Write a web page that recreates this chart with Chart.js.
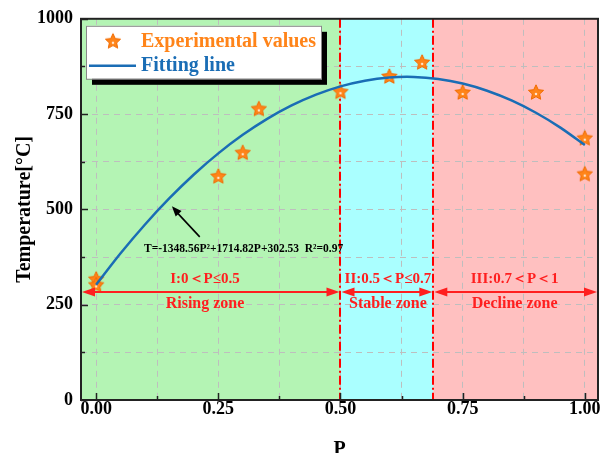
<!DOCTYPE html>
<html><head><meta charset="utf-8">
<script src="https://cdn.jsdelivr.net/npm/chart.js@4.4.1/dist/chart.umd.min.js"></script>
<style>html,body{margin:0;padding:0;background:#fff;overflow:hidden;}</style>
</head><body>
<canvas id="c" width="603" height="453"></canvas>
<script>
// ---------- data ----------
const expP = [0, 0, 0.25, 0.30, 0.333, 0.50, 0.60, 0.667, 0.75, 0.90, 1.00, 1.00];
const expT = [318, 303, 588, 650, 765, 810, 850, 887, 808, 808, 688, 594];
const fitP = [0, 0.05, 0.1, 0.15, 0.2, 0.25, 0.3, 0.35, 0.4, 0.45, 0.5, 0.55, 0.6, 0.65, 0.7, 0.75, 0.8, 0.85, 0.9, 0.95, 1.0];
const fitT = [302.5, 384.9, 460.5, 529.4, 591.6, 647.0, 695.6, 737.5, 772.7, 801.1, 822.8, 837.7, 845.9, 847.4, 842.1, 830.1, 811.3, 785.8, 753.5, 714.5, 668.8];
const xTickValues = [0, 0.125, 0.25, 0.375, 0.5, 0.625, 0.75, 0.875, 1.0];
const xTickLabels = ['0.00', '', '0.25', '', '0.50', '', '0.75', '', '1.00'];
const yTickValues = [0, 125, 250, 375, 500, 625, 750, 875, 1000];
const yTickLabels = ['0', '', '250', '', '500', '', '750', '', '1000'];
const zoneBounds = [0.5, 0.69];
const zoneTitles = ['I:0＜P≤0.5', 'II:0.5＜P≤0.7', 'III:0.7＜P＜1'];
const zoneNames = ['Rising zone', 'Stable zone', 'Decline zone'];
const equationText = 'T=-1348.56P²+1714.82P+302.53  R²=0.97';
const seriesNames = ['Experimental values', 'Fitting line'];

// ---------- styling ----------
const SERIF = "'Times New Roman', 'Liberation Serif', 'DejaVu Serif', serif";
const ORANGE = '#ff8419';
const BLUE = '#1a6db5';
const RED = '#ff1f1f';
const ZONE_COLORS = ['rgb(180,244,180)', 'rgb(170,255,255)', 'rgb(255,192,192)'];

function makeStar(r) {
  const s = Math.ceil(r * 2 + 4);
  const c = document.createElement('canvas');
  c.width = s; c.height = s;
  const g = c.getContext('2d');
  g.translate(s / 2, s / 2 + r * 0.1);
  g.beginPath();
  for (let i = 0; i < 10; i++) {
    const a = -Math.PI / 2 + i * Math.PI / 5;
    const rr = i % 2 ? r * 0.48 : r;
    g.lineTo(rr * Math.cos(a), rr * Math.sin(a));
  }
  g.closePath();
  g.fillStyle = ORANGE; g.fill();
  g.lineWidth = 1; g.strokeStyle = '#f06a00'; g.stroke();
  g.beginPath(); g.arc(0, r * 0.15, r * 0.16, 0, Math.PI * 2);
  g.fillStyle = 'rgba(255,240,225,0.9)'; g.fill();
  return c;
}
const starImg = makeStar(8);

function arrowHead(ctx, x1, y1, x2, y2, len, half) {
  const a = Math.atan2(y2 - y1, x2 - x1);
  ctx.beginPath();
  ctx.moveTo(x2, y2);
  ctx.lineTo(x2 - len * Math.cos(a) + half * Math.sin(a), y2 - len * Math.sin(a) - half * Math.cos(a));
  ctx.lineTo(x2 - len * Math.cos(a) - half * Math.sin(a), y2 - len * Math.sin(a) + half * Math.cos(a));
  ctx.closePath();
  ctx.fill();
}

const zonePlugin = {
  id: 'zones',
  beforeDraw(chart) {
    const {ctx, chartArea: ca, scales: {x}} = chart;
    const edges = [ca.left, x.getPixelForValue(zoneBounds[0]), x.getPixelForValue(zoneBounds[1]), ca.right];
    ctx.save();
    for (let i = 0; i < 3; i++) {
      ctx.fillStyle = ZONE_COLORS[i];
      ctx.fillRect(edges[i], ca.top, edges[i + 1] - edges[i], ca.bottom - ca.top);
    }
    ctx.restore();
  },
  beforeDatasetsDraw(chart) {
    const {ctx, chartArea: ca, scales: {x}} = chart;
    ctx.save();
    ctx.strokeStyle = '#ff0000';
    ctx.lineWidth = 2;
    ctx.setLineDash([9, 3, 2, 3]);
    zoneBounds.forEach(b => {
      const px = Math.round(x.getPixelForValue(b));
      ctx.beginPath(); ctx.moveTo(px, ca.top); ctx.lineTo(px, ca.bottom); ctx.stroke();
    });
    ctx.restore();
  },
  afterDatasetsDraw(chart) {
    const {ctx, chartArea: ca, scales: {x, y}} = chart;
    const edges = [ca.left, x.getPixelForValue(zoneBounds[0]), x.getPixelForValue(zoneBounds[1]), ca.right];
    ctx.save();
    // zone arrows
    const ay = y.getPixelForValue(283);
    ctx.strokeStyle = RED; ctx.fillStyle = RED; ctx.lineWidth = 2;
    for (let i = 0; i < 3; i++) {
      const a = edges[i] + 1, b = edges[i + 1] - 1;
      ctx.beginPath(); ctx.moveTo(a + 6, ay); ctx.lineTo(b - 6, ay); ctx.stroke();
      arrowHead(ctx, b, ay, a, ay, 13, 4.5);
      arrowHead(ctx, a, ay, b, ay, 13, 4.5);
    }
    // zone texts
    ctx.textAlign = 'center'; ctx.textBaseline = 'middle';
    const centers = [205, (edges[1] + edges[2]) / 2 + 1, (edges[2] + edges[3]) / 2 - 1];
    for (let i = 0; i < 3; i++) {
      ctx.font = 'bold 15px ' + SERIF;
      ctx.fillText(zoneTitles[i], centers[i], y.getPixelForValue(318));
      ctx.font = 'bold 16px ' + SERIF;
      ctx.fillText(zoneNames[i], centers[i], y.getPixelForValue(252));
    }
    // equation
    ctx.fillStyle = '#000';
    ctx.font = 'bold 11.5px ' + SERIF;
    ctx.textAlign = 'left';
    ctx.fillText(equationText, x.getPixelForValue(0.098), y.getPixelForValue(395));
    // black arrow to the curve
    const x1 = x.getPixelForValue(0.212), y1 = y.getPixelForValue(428);
    const x2 = x.getPixelForValue(0.155), y2 = y.getPixelForValue(508);
    ctx.strokeStyle = '#000'; ctx.lineWidth = 1.6;
    ctx.beginPath(); ctx.moveTo(x1, y1); ctx.lineTo(x2 + 5, y2 + 6); ctx.stroke();
    arrowHead(ctx, x1, y1, x2, y2, 10, 4);
    ctx.restore();
  },
  afterDraw(chart) {
    const {ctx, chartArea: ca, scales: {x, y}} = chart;
    ctx.save();
    // inward ticks
    ctx.strokeStyle = '#222'; ctx.lineWidth = 1.5;
    xTickValues.forEach((v, i) => {
      const px = Math.round(x.getPixelForValue(v)) + 0.5;
      const len = xTickLabels[i] ? 7 : 4;
      ctx.beginPath(); ctx.moveTo(px, ca.bottom); ctx.lineTo(px, ca.bottom - len); ctx.stroke();
    });
    yTickValues.forEach((v, i) => {
      const py = Math.round(y.getPixelForValue(v)) + 0.5;
      const len = yTickLabels[i] ? 7 : 4;
      ctx.beginPath(); ctx.moveTo(ca.left, py); ctx.lineTo(ca.left + len, py); ctx.stroke();
    });
    // frame
    ctx.lineWidth = 2; ctx.strokeStyle = '#222';
    ctx.strokeRect(ca.left, ca.top, ca.right - ca.left, ca.bottom - ca.top);
    // legend
    const lx = ca.left + 5, ly = ca.top + 7, lw = 235, lh = 53;
    ctx.fillStyle = '#000';
    ctx.fillRect(lx + 6, ly + 6, lw, lh);
    ctx.fillStyle = '#fff';
    ctx.fillRect(lx, ly, lw, lh);
    ctx.lineWidth = 1; ctx.strokeStyle = '#888';
    ctx.strokeRect(lx + 0.5, ly + 0.5, lw, lh);
    ctx.drawImage(starImg, lx + 27 - starImg.width / 2, ly + 15 - starImg.height / 2);
    ctx.strokeStyle = BLUE; ctx.lineWidth = 2.5;
    ctx.beginPath(); ctx.moveTo(lx + 3, ly + 40); ctx.lineTo(lx + 50, ly + 40); ctx.stroke();
    ctx.font = 'bold 20px ' + SERIF;
    ctx.textAlign = 'left'; ctx.textBaseline = 'middle';
    ctx.fillStyle = ORANGE; ctx.fillText(seriesNames[0], lx + 55, ly + 16);
    ctx.fillStyle = BLUE; ctx.fillText(seriesNames[1], lx + 55, ly + 40);
    ctx.restore();
  }
};

const gridCommon = {
  color: 'rgb(190,190,190)',
  lineWidth: 1,
  drawTicks: false
};

new Chart(document.getElementById('c'), {
  type: 'scatter',
  data: {
    datasets: [
      {
        label: seriesNames[1],
        data: fitP.map((p, i) => ({x: p, y: fitT[i]})),
        showLine: true,
        borderColor: BLUE,
        borderWidth: 2.5,
        pointRadius: 0,
        tension: 0.3,
        order: 0
      },
      {
        label: seriesNames[0],
        data: expP.map((p, i) => ({x: p, y: expT[i]})),
        pointStyle: starImg,
        pointRadius: 8,
        order: 1
      }
    ]
  },
  options: {
    responsive: false,
    devicePixelRatio: 1,
    animation: false,
    layout: {autoPadding: false, padding: {top: 18, right: 5, left: 0, bottom: 0}},
    plugins: {legend: {display: false}, tooltip: {enabled: false}},
    scales: {
      x: {
        type: 'linear', min: -0.031, max: 1.027,
        afterBuildTicks: s => { s.ticks = xTickValues.map(v => ({value: v})); },
        afterFit: s => { s.height = 53; s.paddingLeft = 0; s.paddingRight = 0; },
        grid: gridCommon,
        border: {display: false, dash: [6, 5]},
        ticks: {
          autoSkip: false, maxRotation: 0, padding: -1,
          color: '#000', font: {family: SERIF, size: 18, weight: 'bold'},
          callback: (v) => { const i = xTickValues.findIndex(t => Math.abs(t - v) < 1e-9); return i >= 0 ? xTickLabels[i] : ''; }
        },
        title: {display: true, text: 'P', color: '#000', font: {family: SERIF, size: 20, weight: 'bold'}, padding: {top: 0, bottom: -9}}
      },
      y: {
        type: 'linear', min: 0, max: 1000,
        afterBuildTicks: s => { s.ticks = yTickValues.map(v => ({value: v})); },
        afterFit: s => { s.width = 81; },
        grid: gridCommon,
        border: {display: false, dash: [6, 5]},
        ticks: {
          autoSkip: false, padding: 8,
          color: '#000', font: {family: SERIF, size: 18, weight: 'bold'},
          callback: (v) => { const i = yTickValues.findIndex(t => Math.abs(t - v) < 1e-9); return i >= 0 ? yTickLabels[i] : ''; }
        },
        title: {display: true, text: 'Temperature[°C]', color: '#000', font: {family: SERIF, size: 20, weight: 'bold'}, padding: {top: 13, bottom: 0}}
      }
    }
  },
  plugins: [zonePlugin]
});
</script>
</body></html>
